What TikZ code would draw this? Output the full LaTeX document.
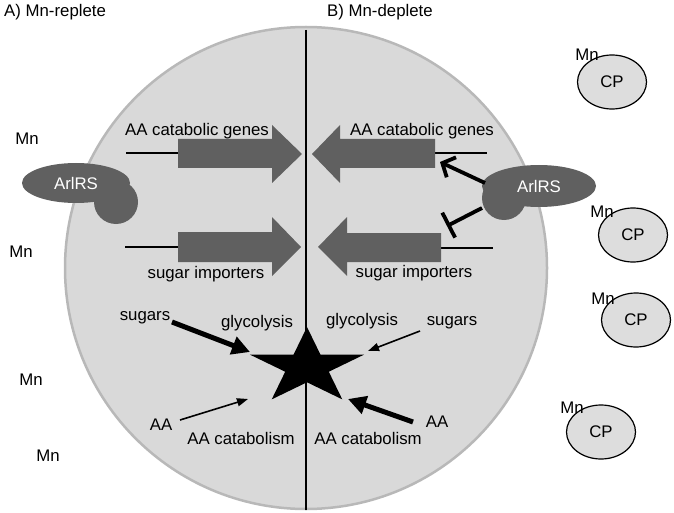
\documentclass[tikz,border=0pt]{standalone}
\usepackage{fontspec}
\setmainfont{Liberation Sans}
\usetikzlibrary{
  positioning,
  shapes.geometric,
  arrows.meta,
  calc
}

\definecolor{cellgray}{HTML}{D9D9D9}
\definecolor{cellrim}{HTML}{B8B8B8}
\definecolor{genegray}{HTML}{606060}
\definecolor{cpgray}{HTML}{DDDDDD}

\begin{document}
\begin{tikzpicture}[
  x=1pt, y=-1pt,
  font=\fontsize{16.8}{20}\selectfont,
  cell/.style={fill=cellgray, draw=cellrim, line width=2.5pt},
  gene/.style={fill=genegray},
  dna/.style={line width=2.6pt},
  sensor/.style={
    ellipse,
    fill=genegray,
    text=white,
    inner sep=0pt
  },
  cp/.style={
    draw,
    ellipse,
    fill=cpgray,
    line width=1.2pt,
    minimum width=69pt,
    minimum height=54pt,
    inner sep=0pt
  },
  plain/.style={inner sep=1pt},
  thickflux/.style={line width=5pt, -{Triangle[length=18pt,width=18pt]}},
  thinflux/.style={line width=1.6pt, -{Triangle[length=11pt,width=8pt]}},
  activate/.style={line width=3.8pt, -{Straight Barb[length=10pt,width=22pt]}},
  repress/.style={line width=3.8pt, -{Bar[width=28pt]}}
]
\useasboundingbox (0,0) rectangle (674,513);

% Titles
\node[plain, anchor=west] (titleA) at (3,12) {A) Mn-replete};
\node[plain, anchor=west] (titleB) at (326,12) {B) Mn-deplete};

% Cell
\draw[cell] (306,268) circle (241);
\coordinate (midtop) at (306,30);
\coordinate (midbot) at (306,510);
\draw[line width=2.2pt] (midtop) -- (midbot);

% Genes, Mn-replete side
\draw[dna] (126,153) -- (178,153);
\fill[gene] (178,139) -- (272,139) -- (272,125) -- (302,154) -- (272,183) -- (272,168) -- (178,168) -- cycle;
\draw[dna] (125,247) -- (178,247);
\fill[gene] (178,232) -- (272,232) -- (272,217) -- (301,247) -- (272,276) -- (272,262) -- (178,262) -- cycle;
\node[plain] (genesA) at (197,131) {AA catabolic genes};
\node[plain] (importA) at (206,274) {sugar importers};

% Genes, Mn-deplete side
\draw[dna] (435,153) -- (487,153);
\fill[gene] (435,139) -- (340,139) -- (340,125) -- (312,154) -- (340,183) -- (340,168) -- (435,168) -- cycle;
\draw[dna] (441,248) -- (493,248);
\fill[gene] (441,233) -- (347,233) -- (347,217) -- (318,247) -- (347,276) -- (347,262) -- (441,262) -- cycle;
\node[plain] (genesB) at (422,131) {AA catabolic genes};
\node[plain] (importB) at (414,273) {sugar importers};

% ArlRS
\fill[genegray] (116,202) circle (22);
\node[sensor, minimum width=108pt, minimum height=40pt] (arlA) at (76,183) {ArlRS};
\fill[genegray] (504,198) circle (22);
\node[sensor, minimum width=114pt, minimum height=42pt] (arlB) at (539,186) {ArlRS};

% Regulation
\coordinate (arlBup) at (485,183);
\coordinate (arlBdown) at (482,208);
\coordinate (genesBend) at (440,162);
\coordinate (importBend) at (447,226);
\draw[activate] (arlBup) -- (genesBend);
\draw[repress] (arlBdown) -- (importBend);

% Central metabolism
\node[star, star points=5, star point ratio=2.618, minimum size=80pt,
  inner sep=0pt, fill=black, xscale=1.5, transform shape] (hub) at (307,367) {};

\node[plain] (sugA) at (145,318) {sugars};
\node[plain] (glyA) at (257,323) {glycolysis};
\node[plain] (glyB) at (362,321) {glycolysis};
\node[plain] (sugB) at (452,323) {sugars};
\node[plain] (aaA) at (161,425) {AA};
\node[plain] (catA) at (241,438) {AA catabolism};
\node[plain] (catB) at (368,438) {AA catabolism};
\node[plain] (aaB) at (437,422) {AA};

\coordinate (sugAstart) at (172,322);
\coordinate (sugAend) at (250,352);
\coordinate (sugBstart) at (420,331);
\coordinate (sugBend) at (368,351);
\coordinate (aaAstart) at (180,420);
\coordinate (aaAend) at (248,399);
\coordinate (aaBstart) at (413,422);
\coordinate (aaBend) at (348,399);
\draw[thickflux] (sugAstart) -- (sugAend);
\draw[thinflux] (sugBstart) -- (sugBend);
\draw[thinflux] (aaAstart) -- (aaAend);
\draw[thickflux] (aaBstart) -- (aaBend);

% Mn outside
\node[plain] (mn1) at (27,139) {Mn};
\node[plain] (mn2) at (21,252) {Mn};
\node[plain] (mn3) at (31,380) {Mn};
\node[plain] (mn4) at (48,456) {Mn};

% Calprotectin
\node[cp] (cp1) at (612,82) {CP};
\node[cp] (cp2) at (633,235) {CP};
\node[cp] (cp3) at (636,320) {CP};
\node[cp] (cp4) at (601,432) {CP};
\node[plain] (mncp1) at (587,55) {Mn};
\node[plain] (mncp2) at (602,212) {Mn};
\node[plain] (mncp3) at (603,299) {Mn};
\node[plain] (mncp4) at (572,408) {Mn};

\end{tikzpicture}
\end{document}
